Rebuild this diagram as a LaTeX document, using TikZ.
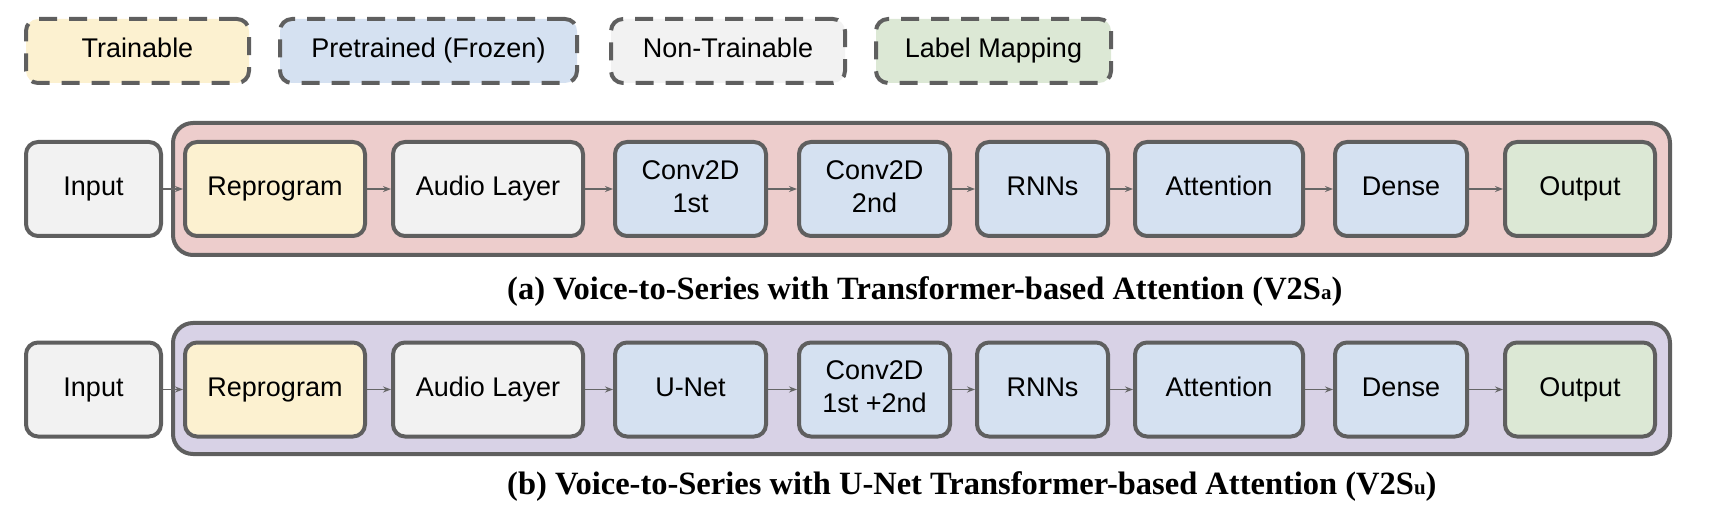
\documentclass[tikz,border=0pt]{standalone}
\usepackage{fontspec}
\setmainfont{Liberation Sans}
\newfontfamily\captionfont{Liberation Serif}
\usetikzlibrary{arrows.meta}

\begin{document}
\begin{tikzpicture}[x=1pt, y=-1pt,
        block/.style = {draw=borderGray, line width=4pt, rounded corners=12pt, minimum height=94pt, inner sep=0pt, align=center, font=\fontsize{27}{33}\selectfont, execute at begin node=\rule[-5.6pt]{0pt}{25pt}},
        legendbox/.style = {block, dash pattern=on 18pt off 12pt, minimum height=64pt},
        group/.style = {draw=borderGray, line width=4pt, rounded corners=20pt},
        flow/.style = {draw=arrowGray, line width=1.4pt, -{Stealth[length=8pt,width=6pt]}},
        caption/.style = {anchor=base west, inner sep=0pt, font=\captionfont\bfseries\fontsize{32.5}{38}\selectfont}]
        \definecolor{borderGray}{RGB}{95,95,95}
        \definecolor{arrowGray}{RGB}{102,102,102}
        \definecolor{trainFill}{RGB}{252,241,208}
        \definecolor{frozenFill}{RGB}{213,225,241}
        \definecolor{fixedFill}{RGB}{242,242,242}
        \definecolor{labelFill}{RGB}{220,232,213}
        \definecolor{pinkGroup}{RGB}{237,205,204}
        \definecolor{purpleGroup}{RGB}{216,210,230}
        \useasboundingbox (0,0) rectangle (1712,526);
        % legend
        \node[legendbox, fill=trainFill, minimum width=223pt] (legTrain) at (137.5,51) {Trainable};
        \node[legendbox, fill=frozenFill, minimum width=297pt] (legFrozen) at (428.5,51) {Pretrained (Frozen)};
        \node[legendbox, fill=fixedFill, minimum width=234pt] (legFixed) at (728,51) {Non-Trainable};
        \node[legendbox, fill=labelFill, minimum width=235pt] (legLabel) at (993.5,51) {Label Mapping};
        % (a) transformer-based attention
        \filldraw[group, fill=pinkGroup] (173,123) rectangle (1670,255);
        \node[block, fill=fixedFill, minimum width=135pt] (aIn) at (93.5,189) {Input};
        \node[block, fill=trainFill, minimum width=180pt] (aRep) at (275,189) {Reprogram};
        \node[block, fill=fixedFill, minimum width=190pt] (aAud) at (488,189) {Audio Layer};
        \node[block, fill=frozenFill, minimum width=151pt] (aConvA) at (690.5,189) {Conv2D\\1st};
        \node[block, fill=frozenFill, minimum width=151pt] (aConvB) at (874.5,189) {Conv2D\\2nd};
        \node[block, fill=frozenFill, minimum width=131pt] (aRnn) at (1042.5,189) {RNNs};
        \node[block, fill=frozenFill, minimum width=168pt] (aAtt) at (1219,189) {Attention};
        \node[block, fill=frozenFill, minimum width=132pt] (aDense) at (1401,189) {Dense};
        \node[block, fill=labelFill, minimum width=150pt] (aOut) at (1580,189) {Output};
        \foreach \s/\t in {In/Rep, Rep/Aud, Aud/ConvA, ConvA/ConvB, ConvB/Rnn, Rnn/Att, Att/Dense, Dense/Out}
            \draw[flow] (a\s) -- (a\t);
        \node[caption] (capA) at (507,300) {(a) Voice-to-Series with Transformer-based Attention (V2S{\fontsize{21}{21}\selectfont a})};
        % (b) u-net transformer-based attention
        \filldraw[group, fill=purpleGroup] (173,323) rectangle (1670,454);
        \node[block, fill=fixedFill, minimum width=135pt] (bIn) at (93.5,389.5) {Input};
        \node[block, fill=trainFill, minimum width=180pt] (bRep) at (275,389.5) {Reprogram};
        \node[block, fill=fixedFill, minimum width=190pt] (bAud) at (488,389.5) {Audio Layer};
        \node[block, fill=frozenFill, minimum width=151pt] (bUnet) at (690.5,389.5) {U-Net};
        \node[block, fill=frozenFill, minimum width=151pt] (bConv) at (874.5,389.5) {Conv2D\\1st +2nd};
        \node[block, fill=frozenFill, minimum width=131pt] (bRnn) at (1042.5,389.5) {RNNs};
        \node[block, fill=frozenFill, minimum width=168pt] (bAtt) at (1219,389.5) {Attention};
        \node[block, fill=frozenFill, minimum width=132pt] (bDense) at (1401,389.5) {Dense};
        \node[block, fill=labelFill, minimum width=150pt] (bOut) at (1580,389.5) {Output};
        \foreach \s/\t in {In/Rep, Rep/Aud, Aud/Unet, Unet/Conv, Conv/Rnn, Rnn/Att, Att/Dense, Dense/Out}
            \draw[flow] (b\s) -- (b\t);
        \node[caption] (capB) at (507,494) {(b) Voice-to-Series with U-Net Transformer-based Attention (V2S{\fontsize{21}{21}\selectfont u})};
    \end{tikzpicture}
\end{document}
